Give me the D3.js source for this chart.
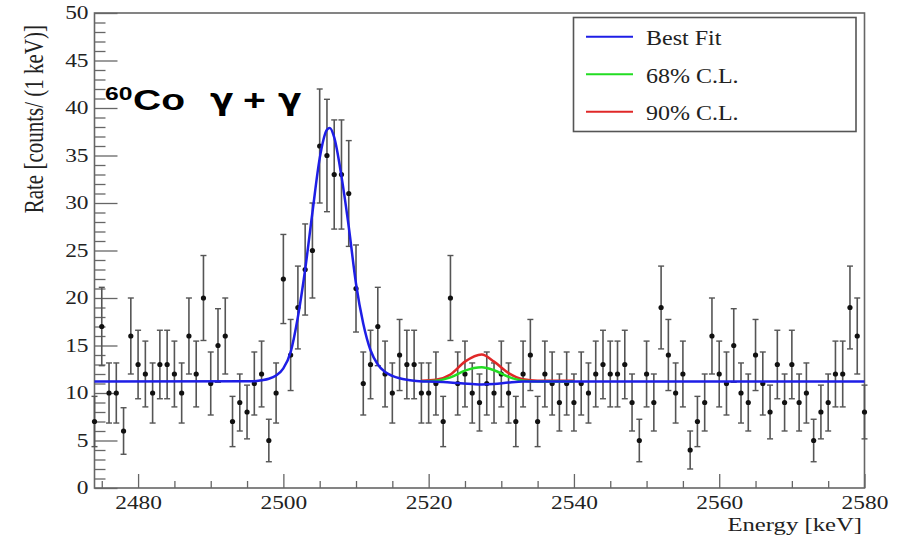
<!DOCTYPE html>
<html>
<head>
<meta charset="utf-8">
<script src="https://cdn.jsdelivr.net/npm/d3@7"></script>
<style>
  body { margin: 0; background: white; }
</style>
</head>
<body>
<div id="viz-container"></div>
<script>
let vizWidth = 906;
let vizHeight = 539;

// data: counts per 1 keV bin, first bin at 2474 keV
let firstEnergy = 2474;
let counts = [
  7, 17, 10, 10, 6, 16, 13, 12, 10, 13,      // 2474-2483
  13, 12, 10, 16, 12, 20, 11, 15, 16, 7,     // 2484-2493
  9, 8, 11, 12, 5, 10, 22, 14, 19, 23,       // 2494-2503
  25, 36, 35, 33, 33, 31, 21, 11, 13, 17,    // 2504-2513
  12, 10, 14, 13, 13, 10, 10, 11, 7, 20,     // 2514-2523
  11, 12, 10, 9, 11, 10, 12, 10, 7, 12,      // 2524-2533
  14, 7, 12, 11, 9, 11, 9, 11, 10, 12,       // 2534-2543
  13, 12, 12, 13, 9, 5, 12, 9, 19, 14,       // 2544-2553
  10, 12, 4, 7, 9, 16, 12, 11, 15, 10,       // 2554-2563
  9, 14, 11, 8, 13, 9, 13, 9, 10, 5,         // 2564-2573
  8, 9, 12, 12, 19, 16, 8                    // 2574-2580
];

// fit curves
let bestFitEnergy = [2474, 2496, 2497, 2498, 2499, 2500, 2501, 2502, 2503, 2504, 2505, 2506, 2506.4, 2507, 2508, 2509, 2510, 2511, 2512, 2513, 2514, 2515, 2516, 2517, 2518, 2520, 2522, 2524, 2526, 2527.3, 2529, 2531, 2533, 2580];
let bestFitRate   = [11.2, 11.25, 11.35, 11.5, 11.85, 12.6, 14.3, 18.0, 23.0, 29.0, 34.7, 37.7, 37.9, 36.9, 32.8, 27.5, 21.5, 17.3, 14.5, 13.0, 12.2, 11.8, 11.55, 11.4, 11.3, 11.2, 11.15, 11.05, 10.95, 10.9, 10.95, 11.1, 11.2, 11.2];

let clEnergy = [2519, 2521, 2523, 2525, 2527.3, 2529, 2531, 2533, 2535, 2540];
let cl68Rate = [11.25, 11.3, 11.65, 12.35, 12.7, 12.4, 11.7, 11.3, 11.22, 11.22];
let cl90Rate = [11.3, 11.4, 11.95, 13.3, 14.05, 13.3, 12.1, 11.45, 11.3, 11.3];

let legendLabels = ["Best Fit", "68% C.L.", "90% C.L."];
let legendColors = ["#1e1ee6", "#22dd22", "#e02828"];

let xMajorTicks = [2480, 2500, 2520, 2540, 2560, 2580];
let yMajorTicks = [0, 5, 10, 15, 20, 25, 30, 35, 40, 45, 50];

let frame = {left: 94.5, right: 864.5, top: 13, bottom: 488};
let stretch = 1.3; // the figure text is wide

let viz = d3.select("#viz-container")
  .append("svg")
    .attr("width", vizWidth)
    .attr("height", vizHeight)
    .style("display", "block")
    .style("background-color", "white");

let x = d3.scaleLinear().domain([2474, 2580]).range([frame.left, frame.right]);
let y = d3.scaleLinear().domain([0, 50]).range([frame.bottom, frame.top]);

let points = counts.map(function(c, i){
  return {e: firstEnergy + i, n: c, err: Math.sqrt(c)}; // poisson errors
});

// frame
viz.append("rect")
  .attr("x", frame.left).attr("y", frame.top)
  .attr("width", frame.right - frame.left)
  .attr("height", frame.bottom - frame.top)
  .attr("fill", "white")
  .attr("stroke", "#666")
  .attr("stroke-width", 1.6);

// x axis: minor every 5 keV, major every 20
let xMinor = d3.range(2475, 2581, 5).filter(function(v){ return xMajorTicks.indexOf(v) < 0; });
viz.append("g")
  .attr("transform", "translate(0," + frame.bottom + ")")
  .call(d3.axisBottom(x).tickValues(xMinor).tickSize(-7).tickFormat(""))
  .call(function(g){ g.select(".domain").remove(); });

let xAxis = viz.append("g")
  .attr("transform", "translate(0," + frame.bottom + ")")
  .call(d3.axisBottom(x).tickValues(xMajorTicks).tickSize(-14).tickPadding(8).tickFormat(d3.format("d")))
  .call(function(g){ g.select(".domain").remove(); });

xAxis.selectAll("text")
  .attr("font-family", "Liberation Serif")
  .attr("font-size", 18)
  .attr("fill", "#222")
  .attr("transform", "scale(" + stretch + ",1)");

// y axis
let yMinor = d3.range(0, 51, 1).filter(function(v){ return v % 5 != 0; });
viz.append("g")
  .attr("transform", "translate(" + frame.left + ",0)")
  .call(d3.axisLeft(y).tickValues(yMinor).tickSize(-11).tickFormat(""))
  .call(function(g){ g.select(".domain").remove(); });

let yAxis = viz.append("g")
  .attr("transform", "translate(" + frame.left + ",0)")
  .call(d3.axisLeft(y).tickValues(yMajorTicks).tickSize(-23).tickFormat(d3.format("d")))
  .call(function(g){ g.select(".domain").remove(); });

yAxis.selectAll("text")
  .attr("x", -6 / stretch)
  .attr("font-family", "Liberation Serif")
  .attr("font-size", 18)
  .attr("fill", "#222")
  .attr("transform", "scale(" + stretch + ",1)");

viz.selectAll(".tick line").attr("stroke", "#666").attr("stroke-width", 1.3);

// axis titles
viz.append("text")
  .attr("transform", "translate(862,531) scale(" + stretch + ",1)")
  .attr("text-anchor", "end")
  .attr("font-family", "Liberation Serif")
  .attr("font-size", 19)
  .attr("fill", "#222")
  .text("Energy [keV]");

viz.append("text")
  .attr("transform", "translate(43,25) rotate(-90) scale(1," + stretch + ")")
  .attr("text-anchor", "end")
  .attr("font-family", "Liberation Serif")
  .attr("font-size", 21)
  .attr("fill", "#222")
  .text("Rate [counts/ (1 keV)]");

// error bars
let bars = viz.selectAll(".datagroup").data(points).enter().append("g")
  .attr("class", "datagroup");

bars.append("line")
  .attr("x1", function(d){ return x(d.e); })
  .attr("x2", function(d){ return x(d.e); })
  .attr("y1", function(d){ return y(d.n - d.err); })
  .attr("y2", function(d){ return y(d.n + d.err); })
  .attr("stroke", "#555")
  .attr("stroke-width", 1.6);

bars.selectAll(".cap")
  .data(function(d){ return [{e: d.e, v: d.n - d.err}, {e: d.e, v: d.n + d.err}]; })
  .enter().append("line")
    .attr("class", "cap")
    .attr("x1", function(d){ return x(d.e) - 3; })
    .attr("x2", function(d){ return x(d.e) + 3; })
    .attr("y1", function(d){ return y(d.v); })
    .attr("y2", function(d){ return y(d.v); })
    .attr("stroke", "#555")
    .attr("stroke-width", 1.4);

bars.append("circle")
  .attr("cx", function(d){ return x(d.e); })
  .attr("cy", function(d){ return y(d.n); })
  .attr("r", 2.6)
  .attr("fill", "#111");

// fit curves
let line = d3.line()
  .x(function(d){ return x(d[0]); })
  .y(function(d){ return y(d[1]); })
  .curve(d3.curveMonotoneX);

viz.append("path")
  .attr("d", line(d3.zip(clEnergy, cl90Rate)))
  .attr("fill", "none").attr("stroke", legendColors[2]).attr("stroke-width", 2.5);

viz.append("path")
  .attr("d", line(d3.zip(clEnergy, cl68Rate)))
  .attr("fill", "none").attr("stroke", legendColors[1]).attr("stroke-width", 2.5);

viz.append("path")
  .attr("d", line(d3.zip(bestFitEnergy, bestFitRate)))
  .attr("fill", "none").attr("stroke", legendColors[0]).attr("stroke-width", 2.5);

// label
viz.append("text")
  .attr("transform", "translate(105,100) scale(" + stretch + ",1)")
  .attr("font-family", "Liberation Sans").attr("font-weight", "bold").attr("font-size", 19)
  .attr("fill", "#000")
  .text("60");

let labelParts = [
  {t: "Co", x: 133, font: "Liberation Sans"},
  {t: "γ", x: 210, font: "DejaVu Sans"},
  {t: "+", x: 243, font: "Liberation Sans"},
  {t: "γ", x: 278, font: "DejaVu Sans"}
];
viz.selectAll(".labelpart").data(labelParts).enter().append("text")
  .attr("class", "labelpart")
  .attr("transform", function(d){ return "translate(" + d.x + ",110) scale(" + (d.font == "DejaVu Sans" ? 1.15 : stretch) + ",1)"; })
  .attr("font-family", function(d){ return d.font; })
  .attr("font-weight", "bold").attr("font-size", 30)
  .attr("fill", "#000")
  .text(function(d){ return d.t; });

// legend
let legend = viz.append("g");
legend.append("rect")
  .attr("x", 573.5).attr("y", 17.5)
  .attr("width", 282.5).attr("height", 114)
  .attr("fill", "white")
  .attr("stroke", "#555")
  .attr("stroke-width", 1.6);

let legendRows = legend.selectAll(".row").data(legendLabels).enter().append("g")
  .attr("class", "row")
  .attr("transform", function(d, i){ return "translate(0," + (36.7 + i * 37.5) + ")"; });

legendRows.append("line")
  .attr("x1", 586).attr("x2", 633)
  .attr("y1", 0).attr("y2", 0)
  .attr("stroke", function(d, i){ return legendColors[i]; })
  .attr("stroke-width", 2);

legendRows.append("text")
  .attr("transform", "translate(646,8.3) scale(1.2,1)")
  .attr("font-family", "Liberation Serif")
  .attr("font-size", 20)
  .attr("fill", "#222")
  .text(function(d){ return d; });
</script>
</body>
</html>
